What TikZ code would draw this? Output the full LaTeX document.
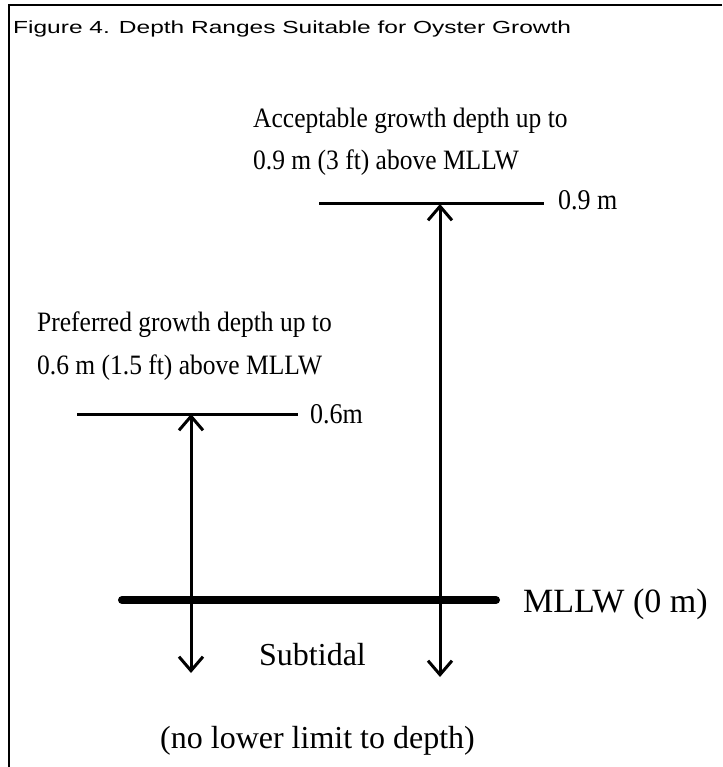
\documentclass[tikz,border=0pt]{standalone}
\usepackage{fontspec}
\setmainfont{Liberation Serif}
\setsansfont{Liberation Sans}
\usetikzlibrary{arrows.meta}
\newcommand\tallx[1]{\scalebox{1}[1.1]{#1}}
\begin{document}
\begin{tikzpicture}[x=1pt,y=-1pt,
  txt/.style={anchor=base west,inner sep=0pt,font=\fontsize{25.5}{30}\selectfont},
  lbl/.style={anchor=base west,inner sep=0pt,font=\fontsize{26}{30}\selectfont},
  bigtxt/.style={anchor=base west,inner sep=0pt,font=\fontsize{32}{38}\selectfont},
  levelline/.style={line width=3pt},
  framedge/.style={line width=2.5pt},
  datumline/.style={line width=8pt,line cap=round},
  rangearrow/.style={line width=3pt,{Straight Barb[length=14pt,width=24pt]}-{Straight Barb[length=14pt,width=24pt]}}]
\useasboundingbox[fill=white] (0,0) rectangle (722,767);
% frame (top and left edges only)
\coordinate (fTL) at (9,5);
\coordinate (fTR) at (722,5);
\coordinate (fBL) at (9,767);
\draw[framedge] (fTR) -- (fTL) -- (fBL);
% title
\node[anchor=base west,inner sep=0pt] (title) at (13,34)
  {\scalebox{1.4}[1]{\sffamily\fontsize{17.5}{20}\selectfont Figure 4. Depth Ranges Suitable for Oyster Growth}};
% acceptable range
\node[txt] (acc1) at (253,128) {\tallx{Acceptable growth depth up to}};
\node[txt] (acc2) at (253,170) {\tallx{0.9 m (3 ft) above MLLW}};
\coordinate (l9a) at (319,204);
\coordinate (l9b) at (544,204);
\draw[levelline] (l9a) -- (l9b);
\node[lbl] (lab9) at (558,210) {\tallx{0.9 m}};
% preferred range
\node[txt] (pre1) at (37,331) {\tallx{Preferred growth depth up to}};
\node[txt] (pre2) at (37,374) {\tallx{0.6 m (1.5 ft) above MLLW}};
\coordinate (l6a) at (77,414);
\coordinate (l6b) at (298,414);
\draw[levelline] (l6a) -- (l6b);
\node[lbl] (lab6) at (310,423) {\tallx{0.6m}};
% MLLW datum
\coordinate (ma) at (122,600);
\coordinate (mb) at (496,600);
\draw[datumline] (ma) -- (mb);
\node[anchor=base west,inner sep=0pt,font=\fontsize{34}{40}\selectfont] (mllw) at (523,612) {MLLW (0 m)};
% range arrows
\coordinate (ltop) at (191,414);
\coordinate (lbot) at (191,673);
\coordinate (rtop) at (440,204);
\coordinate (rbot) at (440,677);
\draw[rangearrow] (lbot) -- (ltop);
\draw[rangearrow] (rbot) -- (rtop);
% subtidal labels
\node[bigtxt] (sub) at (259,665) {Subtidal};
\node[bigtxt] (nolim) at (160,748) {(no lower limit to depth)};
\end{tikzpicture}
\end{document}
